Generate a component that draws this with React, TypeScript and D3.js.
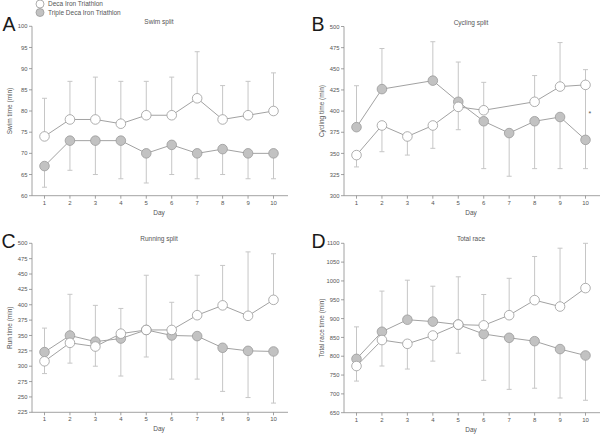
import React from 'react';
import * as d3 from 'd3';

const days = [1, 2, 3, 4, 5, 6, 7, 8, 9, 10];
type V = number | null;

// A - swim
const swimDeca: V[] = [74, 78, 78, 77, 79, 79, 83, 78, 79, 80];
const swimDecaHi: V[] = [83, 87, 88, 87, 87, 88, 94, 86, 87, 89];
const swimDecaLo: V[] = [null, null, null, null, null, null, null, null, null, null];
const swimTriple: V[] = [67, 73, 73, 73, 70, 72, 70, 71, 70, 70];
const swimTripleHi: V[] = [null, null, null, null, null, null, null, null, null, null];
const swimTripleLo: V[] = [62, 66, 65, 64, 63, 65, 64, 65, 64, 64];

// B - cycling
const cycDeca: V[] = [348, 383, 370, 383, 405, 401, null, 411, 429, 431];
const cycDecaHi: V[] = [null, null, 372, null, null, 434, null, 442, 481, 449];
const cycDecaLo: V[] = [334, 352, 348, 356, 378, null, null, null, null, 368];
const cycTriple: V[] = [381, 426, null, 436, 411, 388, 374, 388, 393, 366];
const cycTripleHi: V[] = [430, 474, null, 482, 458, null, null, null, null, null];
const cycTripleLo: V[] = [null, null, null, null, null, 332, 323, 332, 332, 332];

// C - running
const runDeca: V[] = [308, 338, 332, 353, 359, 359, 383, 399, 382, 408];
const runDecaHi: V[] = [null, null, null, 394, 448, 404, 448, 464, 486, 483];
const runDecaLo: V[] = [288, 305, 300, null, null, null, null, null, null, null];
const runTriple: V[] = [323, 350, 340, 345, 359, 350, 349, 330, 325, 324];
const runTripleHi: V[] = [362, 417, 399, null, null, null, null, null, null, null];
const runTripleLo: V[] = [null, null, null, 284, 315, 279, 279, 259, 249, 240];

// D - total
const totDeca: V[] = [774, 843, 833, 855, 884, 882, 909, 949, 932, 981];
const totDecaHi: V[] = [null, null, null, null, 1011, 964, 1007, 1065, 1087, 1100];
const totDecaLo: V[] = [734, 774, 766, 787, null, null, null, null, null, null];
const totTriple: V[] = [793, 865, 897, 892, 884, 859, 849, 840, 819, 802];
const totTripleHi: V[] = [878, 973, 1002, 986, null, null, null, null, null, null];
const totTripleLo: V[] = [null, null, null, null, 808, 736, 712, 715, 689, 683];

const legendLabels = ['Deca Iron Triathlon', 'Triple Deca Iron Triathlon'];

interface PanelCfg {
  letter: string;
  letterX: number;
  title: string;
  yLabel: string;
  domain: [number, number];
  step: number;
  left: number;
  top: number;
  bottom: number;
  deca: V[]; decaHi: V[]; decaLo: V[];
  triple: V[]; tripleHi: V[]; tripleLo: V[];
  star?: number;
}

const panels: PanelCfg[] = [
  { letter: 'A', letterX: 2.5, title: 'Swim split', yLabel: 'Swim time (min)', domain: [60, 100], step: 5,
    left: 32, top: 26.3, bottom: 195.7,
    deca: swimDeca, decaHi: swimDecaHi, decaLo: swimDecaLo,
    triple: swimTriple, tripleHi: swimTripleHi, tripleLo: swimTripleLo },
  { letter: 'B', letterX: 311.5, title: 'Cycling split', yLabel: 'Cycling time (min)', domain: [300, 500], step: 25,
    left: 344, top: 26.5, bottom: 195.7,
    deca: cycDeca, decaHi: cycDecaHi, decaLo: cycDecaLo,
    triple: cycTriple, tripleHi: cycTripleHi, tripleLo: cycTripleLo, star: 398 },
  { letter: 'C', letterX: 1.5, title: 'Running split', yLabel: 'Run time (min)', domain: [225, 500], step: 25,
    left: 32, top: 243.3, bottom: 412.3,
    deca: runDeca, decaHi: runDecaHi, decaLo: runDecaLo,
    triple: runTriple, tripleHi: runTripleHi, tripleLo: runTripleLo },
  { letter: 'D', letterX: 311.5, title: 'Total race', yLabel: 'Total race time (min)', domain: [650, 1100], step: 50,
    left: 344, top: 243.3, bottom: 412.7,
    deca: totDeca, decaHi: totDecaHi, decaLo: totDecaLo,
    triple: totTriple, tripleHi: totTripleHi, tripleLo: totTripleLo },
];

const AXIS = '#8a8a8a';
const TXT = '#555';
const LINE = '#a2a2a2';
const BAR = '#c6c6c6';
const FILL = '#c2c2c2';
const STROKE = '#9a9a9a';
const FONT = 'Liberation Sans, Arial, sans-serif';

const Panel = ({ p }: { p: PanelCfg }) => {
  const x = d3.scaleLinear().domain([1, 10]).range([p.left + 12.5, p.left + 241.5]);
  const y = d3.scaleLinear().domain(p.domain).range([p.bottom, p.top]);
  const yTicks = d3.range(p.domain[0], p.domain[1] + 0.001, p.step);
  const xEnd = p.left + 256;

  const line = d3.line<[number, number]>().x(d => x(d[0])).y(d => y(d[1]));
  const pts = (vals: V[]) => days.map((d, i) => [d, vals[i]] as [number, V]).filter(d => d[1] != null) as [number, number][];

  const bars = (mean: V[], ext: V[], key: string) =>
    days.map((d, i) => {
      const m = mean[i];
      const e = ext[i];
      if (m == null || e == null) return null;
      return (
        <g key={key + i} stroke={BAR} strokeWidth={1}>
          <line x1={x(d)} x2={x(d)} y1={y(m)} y2={y(e)} />
          <line x1={x(d) - 2.5} x2={x(d) + 2.5} y1={y(e)} y2={y(e)} />
        </g>
      );
    });

  const midY = (p.top + p.bottom) / 2;

  return (
    <g fontFamily={FONT}>
      <text x={p.letterX} y={p.top + 4.8} fontSize={19.5} fill="#1a1a1a">{p.letter}</text>
      <text x={p.left + 127} y={p.top - 2} fontSize={6.5} fill={TXT} textAnchor="middle">{p.title}</text>
      {/* axes */}
      <line x1={p.left} x2={p.left} y1={p.top} y2={p.bottom} stroke={AXIS} strokeWidth={0.8} />
      <line x1={p.left} x2={xEnd} y1={p.bottom} y2={p.bottom} stroke={AXIS} strokeWidth={0.8} />
      {yTicks.map(t => (
        <g key={'y' + t}>
          <line x1={p.left - 3} x2={p.left} y1={y(t)} y2={y(t)} stroke={AXIS} strokeWidth={0.8} />
          <text x={p.left - 4.5} y={y(t) + 2.1} fontSize={5.8} fill={TXT} textAnchor="end">{t}</text>
        </g>
      ))}
      {days.map(d => (
        <g key={'x' + d}>
          <line x1={x(d)} x2={x(d)} y1={p.bottom} y2={p.bottom + 3} stroke={AXIS} strokeWidth={0.8} />
          <text x={x(d)} y={p.bottom + 9} fontSize={6} fill={TXT} textAnchor="middle">{d}</text>
        </g>
      ))}
      <text x={p.left + 127} y={p.bottom + 19} fontSize={6.5} fill={TXT} textAnchor="middle">Day</text>
      <text transform={`translate(${p.left - 20},${midY}) rotate(-90)`} fontSize={6.5} fill={TXT} textAnchor="middle">{p.yLabel}</text>
      {/* error bars */}
      {bars(p.deca, p.decaHi, 'dh')}
      {bars(p.deca, p.decaLo, 'dl')}
      {bars(p.triple, p.tripleHi, 'th')}
      {bars(p.triple, p.tripleLo, 'tl')}
      {/* lines */}
      <path d={line(pts(p.deca)) || ''} fill="none" stroke={LINE} strokeWidth={1} />
      <path d={line(pts(p.triple)) || ''} fill="none" stroke={LINE} strokeWidth={1} />
      {pts(p.triple).map(d => (
        <circle key={'tc' + d[0]} cx={x(d[0])} cy={y(d[1])} r={4.8} fill={FILL} stroke={STROKE} strokeWidth={0.8} />
      ))}
      {pts(p.deca).map(d => (
        <circle key={'dc' + d[0]} cx={x(d[0])} cy={y(d[1])} r={4.8} fill="#fff" stroke={STROKE} strokeWidth={0.8} />
      ))}
      {p.star != null && (
        <text x={x(10) + 3} y={y(p.star) + 3.5} fontSize={7} fill={TXT}>*</text>
      )}
    </g>
  );
};

export default function App() {
  return (
    <div style={{ position: 'absolute', left: 0, top: 0 }}>
      <svg width={600} height={435} style={{ display: 'block', background: '#fff' }}>
        <g fontFamily={FONT}>
          <circle cx={40} cy={4} r={4} fill="#fff" stroke={STROKE} strokeWidth={0.8} />
          <text x={48} y={6.2} fontSize={6.5} fill={TXT}>{legendLabels[0]}</text>
          <circle cx={40} cy={12.5} r={4} fill={FILL} stroke={STROKE} strokeWidth={0.8} />
          <text x={48} y={14.7} fontSize={6.5} fill={TXT}>{legendLabels[1]}</text>
        </g>
        {panels.map(p => <Panel key={p.letter} p={p} />)}
      </svg>
    </div>
  );
}
